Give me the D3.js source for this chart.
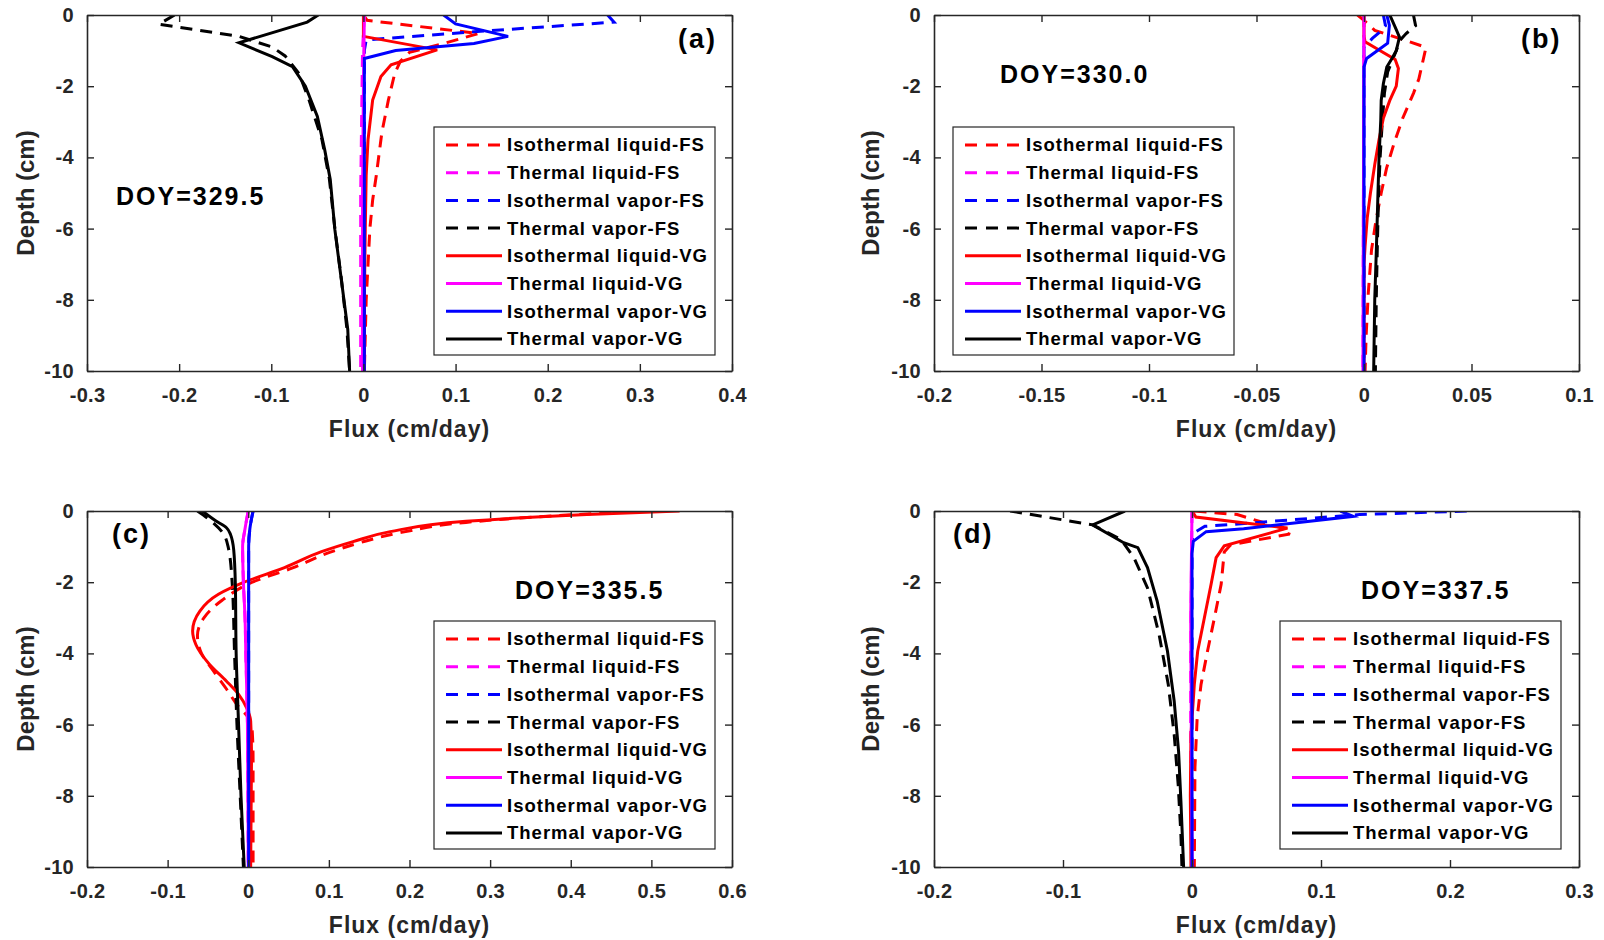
<!DOCTYPE html>
<html>
<head>
<meta charset="utf-8">
<script src="https://cdn.jsdelivr.net/npm/d3@7"></script>
<style>
body { margin: 0; background: #fff; }
svg text { font-family: "Liberation Sans", Arial, sans-serif; font-weight: bold; }
</style>
</head>
<body>
<svg id="chart" width="1604" height="940"></svg>
<script>
'use strict';

// legend order: FS (dashed) then VG (solid)
const seriesNames = [
    'Isothermal liquid-FS', 'Thermal liquid-FS', 'Isothermal vapor-FS', 'Thermal vapor-FS',
    'Isothermal liquid-VG', 'Thermal liquid-VG', 'Isothermal vapor-VG', 'Thermal vapor-VG'
];
const seriesColors = ['#ff0000', '#ff00ff', '#0000ff', '#000000', '#ff0000', '#ff00ff', '#0000ff', '#000000'];
const seriesDashed = [true, true, true, true, false, false, false, false];

const depthTicks = [0, -2, -4, -6, -8, -10];
const fluxTicksA = [-0.3, -0.2, -0.1, 0, 0.1, 0.2, 0.3, 0.4];
const fluxTicksB = [-0.2, -0.15, -0.1, -0.05, 0, 0.05, 0.1];
const fluxTicksC = [-0.2, -0.1, 0, 0.1, 0.2, 0.3, 0.4, 0.5, 0.6];
const fluxTicksD = [-0.2, -0.1, 0, 0.1, 0.2, 0.3];

const doyLabels = ['DOY=329.5', 'DOY=330.0', 'DOY=335.5', 'DOY=337.5'];
const panelLabels = ['(a)', '(b)', '(c)', '(d)'];

// each curve: [flux, depth] pairs, same order as seriesNames
const curvesA = [
    [[0.0, 0], [0.004, -0.15], [0.125, -0.52], [0.09, -0.78], [0.05, -1.05], [0.04, -1.3], [0.034, -1.64], [0.027, -2.4], [0.02, -3.3], [0.014, -4.5], [0.010, -5.2], [0.007, -6], [0.005, -7], [0.003, -8], [0.002, -9], [0.001, -10]],
    [[0.001, 0], [-0.001, -1], [-0.002, -3], [-0.003, -5], [-0.003, -10]],
    [[0.265, 0], [0.272, -0.2], [0.12, -0.47], [0.003, -0.7], [0.001, -1], [0.001, -10]],
    [[-0.205, 0], [-0.222, -0.26], [-0.135, -0.6], [-0.099, -0.9], [-0.085, -1.15], [-0.07, -1.64], [-0.059, -2.39], [-0.045, -3.5], [-0.037, -4.6], [-0.031, -6], [-0.024, -7.4], [-0.018, -8.8], [-0.015, -10]],
    [[0.0, 0], [0.0, -0.6], [0.08, -0.98], [0.03, -1.4], [0.019, -1.73], [0.01, -2.39], [0.005, -3.5], [0.003, -4.5], [0.002, -6], [0.001, -8], [0.001, -10]],
    [[0.001, 0], [0.0, -2], [-0.001, -5], [-0.001, -10]],
    [[0.087, 0], [0.10, -0.25], [0.157, -0.6], [0.12, -0.8], [0.035, -1.0], [0.001, -1.22], [0.001, -10]],
    [[-0.049, 0], [-0.061, -0.2], [-0.135, -0.78], [-0.099, -1.17], [-0.077, -1.45], [-0.063, -2.0], [-0.05, -2.85], [-0.042, -3.79], [-0.036, -4.62], [-0.031, -6.03], [-0.024, -7.43], [-0.017, -8.83], [-0.015, -10]]
];

const curvesB = [
    [[-0.003, 0], [0.0, -0.15], [0.005, -0.43], [0.0285, -0.9], [0.0285, -1.0], [0.027, -1.4], [0.0255, -1.8], [0.023, -2.2], [0.018, -2.9], [0.014, -3.6], [0.0105, -4.3], [0.008, -5], [0.0055, -5.8], [0.0035, -6.6], [0.002, -7.8], [0.001, -9], [0.0005, -10]],
    [[0.0, 0], [-0.0005, -10]],
    [[0.009, 0], [0.01, -0.3], [0.008, -0.45], [0.004, -0.65], [0.0, -0.9], [0.0, -10]],
    [[0.023, 0], [0.024, -0.3], [0.0196, -0.52], [0.0168, -0.71], [0.015, -1.0], [0.013, -1.3], [0.011, -1.6], [0.0095, -2.2], [0.0085, -3], [0.0075, -4], [0.0068, -5], [0.0062, -6.5], [0.0057, -8], [0.0053, -10]],
    [[0.0, 0], [0.0, -0.6], [0.0005, -0.75], [0.0145, -1.25], [0.016, -1.5], [0.015, -2.0], [0.012, -2.4], [0.009, -2.9], [0.007, -3.5], [0.005, -4.2], [0.003, -5], [0.0015, -5.7], [0.0005, -6.5], [0.0, -7], [0.0, -10]],
    [[0.0, 0], [-0.0005, -10]],
    [[0.0106, 0], [0.0118, -0.29], [0.011, -0.79], [0.0012, -1.22], [0.0, -1.46], [0.0, -10]],
    [[0.012, 0], [0.0145, -0.34], [0.0165, -0.62], [0.015, -1.0], [0.013, -1.22], [0.0106, -1.46], [0.009, -1.93], [0.008, -2.4], [0.0078, -2.95], [0.007, -4], [0.0065, -5], [0.0058, -6.5], [0.005, -8], [0.0045, -10]]
];

const curvesC = [
    [[0.5, 0], [0.39, -0.12], [0.27, -0.32], [0.19, -0.6], [0.14, -0.88], [0.1, -1.17], [0.055, -1.6], [0.005, -2.0], [-0.032, -2.5], [-0.055, -3.0], [-0.063, -3.5], [-0.058, -4.0], [-0.043, -4.5], [-0.027, -5.0], [-0.012, -5.5], [0.0, -5.8], [0.005, -6.2], [0.006, -7], [0.006, -10]],
    [[0.0, 0], [-0.004, -0.5], [-0.007, -1], [-0.006, -2], [-0.004, -3], [-0.003, -4], [-0.001, -6], [0.0, -10]],
    [[0.006, 0], [0.002, -0.5], [0.0005, -1], [0.0005, -10]],
    [[-0.063, 0], [-0.045, -0.3], [-0.032, -0.6], [-0.025, -1], [-0.02, -2], [-0.017, -4], [-0.014, -6], [-0.01, -8], [-0.006, -10]],
    [[0.535, 0], [0.42, -0.1], [0.27, -0.29], [0.176, -0.58], [0.13, -0.86], [0.09, -1.15], [0.045, -1.59], [-0.005, -2.0], [-0.037, -2.34], [-0.06, -2.81], [-0.069, -3.37], [-0.065, -3.75], [-0.048, -4.31], [-0.027, -4.78], [-0.012, -5.15], [-0.002, -5.53], [0.003, -5.9], [0.004, -6.75], [0.003, -10]],
    [[0.0, 0], [-0.004, -0.5], [-0.007, -1], [-0.006, -2], [-0.004, -3], [-0.003, -4], [-0.001, -6], [0.0, -10]],
    [[0.006, 0], [0.002, -0.5], [0.0005, -1], [0.0005, -10]],
    [[-0.057, 0], [-0.04, -0.28], [-0.027, -0.47], [-0.022, -0.66], [-0.018, -1.1], [-0.016, -2.06], [-0.015, -4], [-0.012, -6], [-0.009, -8], [-0.005, -10]]
];

const curvesD = [
    [[0.002, 0], [0.035, -0.1], [0.076, -0.55], [0.075, -0.65], [0.03, -0.95], [0.025, -1.15], [0.0226, -2.06], [0.0174, -3.0], [0.012, -3.94], [0.007, -4.87], [0.004, -5.81], [0.0023, -7.2], [0.0018, -10]],
    [[0.0, 0], [-0.001, -4], [-0.001, -6], [0.0, -10]],
    [[0.213, 0], [0.13, -0.1], [0.03, -0.38], [0.01, -0.43], [0.002, -0.6], [0.0, -0.8], [0.0, -10]],
    [[-0.141, 0], [-0.077, -0.39], [-0.055, -0.8], [-0.045, -1.31], [-0.0345, -2.16], [-0.0255, -3.47], [-0.0184, -4.87], [-0.0138, -6.28], [-0.0107, -7.69], [-0.0086, -9.1], [-0.0078, -10]],
    [[0.0, 0], [0.003, -0.17], [0.074, -0.48], [0.025, -0.98], [0.0187, -1.31], [0.0148, -2.06], [0.0096, -3.0], [0.0044, -3.94], [0.0018, -4.87], [-0.0008, -6.28], [-0.0013, -8], [-0.0008, -10]],
    [[0.0, 0], [-0.001, -3], [0.0, -10]],
    [[0.115, 0], [0.125, -0.15], [0.04, -0.5], [0.011, -0.58], [0.001, -0.85], [0.0, -1.2], [0.0, -10]],
    [[-0.052, 0], [-0.077, -0.39], [-0.053, -0.89], [-0.042, -1.03], [-0.0345, -1.59], [-0.027, -2.53], [-0.019, -3.94], [-0.0138, -5.34], [-0.0104, -6.75], [-0.0086, -8.15], [-0.0065, -10]]
];

// layout
const plotW = 645, plotH = 356;
const panels = [
    { curves: curvesA, ticks: fluxTicksA, smooth: false, left: 87,  top: 15,  legend: [434, 127],  doy: [116, 205],  tag: [678, 48] },
    { curves: curvesB, ticks: fluxTicksB, smooth: false, left: 934, top: 15,  legend: [953, 127],  doy: [1000, 83],  tag: [1521, 48] },
    { curves: curvesC, ticks: fluxTicksC, smooth: true,  left: 87,  top: 511, legend: [434, 621],  doy: [515, 599],  tag: [112, 543] },
    { curves: curvesD, ticks: fluxTicksD, smooth: false, left: 934, top: 511, legend: [1280, 621], doy: [1361, 599], tag: [953, 543] }
];

const svg = d3.select('#chart');
const axisColor = '#262626';
// plain hyphen for negatives, like the original figure
const fmt = d => String(+d.toFixed(2));

panels.forEach((p, i) => {
    let x = d3.scaleLinear().domain([p.ticks[0], p.ticks[p.ticks.length - 1]]).range([0, plotW]);
    let y = d3.scaleLinear().domain([-10, 0]).range([plotH, 0]);

    let g = svg.append('g').attr('transform', `translate(${p.left},${p.top})`);

    g.append('clipPath').attr('id', 'clip' + i)
        .append('rect').attr('width', plotW).attr('height', plotH);

    // curves
    let line = d3.line().x(d => x(d[0])).y(d => y(d[1]))
        .curve(p.smooth ? d3.curveMonotoneY : d3.curveLinear);
    g.append('g').attr('clip-path', `url(#clip${i})`)
        .selectAll('path').data(p.curves).enter().append('path')
        .attr('d', line)
        .attr('fill', 'none')
        .attr('stroke', (d, k) => seriesColors[k])
        .attr('stroke-width', 3)
        .attr('stroke-dasharray', (d, k) => seriesDashed[k] ? '12,8' : null);

    // axes, ticks pointing inward on all four sides
    let bottom = g.append('g').attr('transform', `translate(0,${plotH})`)
        .call(d3.axisBottom(x).tickValues(p.ticks).tickFormat(fmt).tickSizeInner(-7).tickSizeOuter(0).tickPadding(17));
    let leftAx = g.append('g')
        .call(d3.axisLeft(y).tickValues(depthTicks).tickFormat(fmt).tickSizeInner(-7).tickSizeOuter(0).tickPadding(13));
    g.append('g').call(d3.axisTop(x).tickValues(p.ticks).tickFormat('').tickSizeInner(-7).tickSizeOuter(0));
    g.append('g').attr('transform', `translate(${plotW},0)`)
        .call(d3.axisRight(y).tickValues(depthTicks).tickFormat('').tickSizeInner(-7).tickSizeOuter(0));

    g.selectAll('.domain').attr('stroke', axisColor).attr('stroke-width', 1.6);
    g.selectAll('.tick line').attr('stroke', axisColor).attr('stroke-width', 1.4);
    [bottom, leftAx].forEach(a => a.selectAll('text')
        .attr('fill', axisColor)
        .style('font-size', '20px')
        .style('letter-spacing', '0.3px'));

    // axis titles
    g.append('text')
        .attr('x', plotW / 2).attr('y', plotH + 66)
        .attr('text-anchor', 'middle')
        .attr('fill', axisColor)
        .style('font-size', '23px').style('letter-spacing', '1px')
        .text('Flux (cm/day)');
    g.append('text')
        .attr('transform', `translate(${34 - p.left + (p.left > 500 ? 845 : 0)},${plotH / 2}) rotate(-90)`)
        .attr('text-anchor', 'middle')
        .attr('fill', axisColor)
        .style('font-size', '24px')
        .text('Depth (cm)');

    // annotations
    svg.append('text').attr('x', p.doy[0]).attr('y', p.doy[1])
        .style('font-size', '25px').style('letter-spacing', '2px')
        .text(doyLabels[i]);
    svg.append('text').attr('x', p.tag[0]).attr('y', p.tag[1])
        .style('font-size', '27px').style('letter-spacing', '2px')
        .text(panelLabels[i]);

    // legend
    let lg = svg.append('g').attr('transform', `translate(${p.legend[0]},${p.legend[1]})`);
    lg.append('rect').attr('width', 281).attr('height', 228)
        .attr('fill', '#fff').attr('stroke', axisColor).attr('stroke-width', 1.2);
    let rows = lg.selectAll('g.row').data(seriesNames).enter().append('g')
        .attr('class', 'row')
        .attr('transform', (d, k) => `translate(0,${18 + k * 27.7})`);
    rows.append('line')
        .attr('x1', 12).attr('x2', (d, k) => seriesDashed[k] ? 66 : 68)
        .attr('stroke', (d, k) => seriesColors[k])
        .attr('stroke-width', 3)
        .attr('stroke-dasharray', (d, k) => seriesDashed[k] ? '12,9' : null);
    rows.append('text')
        .attr('x', 73).attr('dy', '0.35em')
        .attr('fill', '#000')
        .style('font-size', '18.5px').style('letter-spacing', '1px')
        .text(d => d);
});
</script>
</body>
</html>
